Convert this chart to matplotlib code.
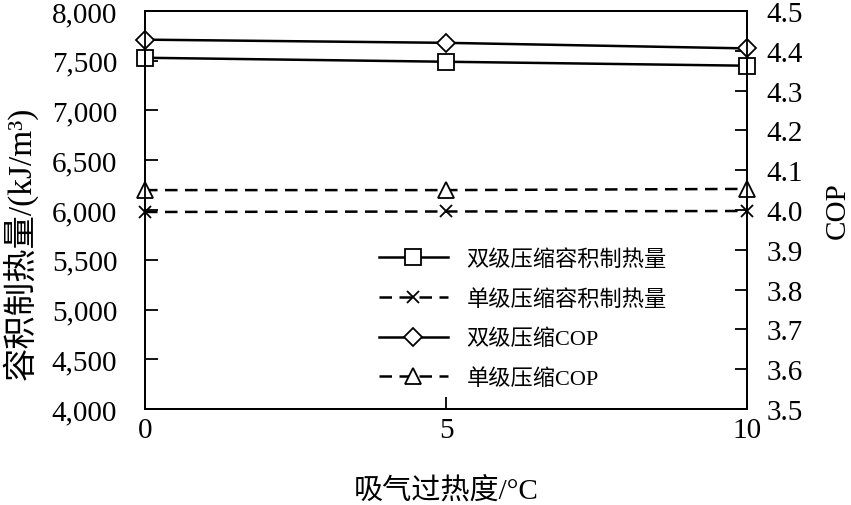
import matplotlib
matplotlib.use("Agg")
import matplotlib.pyplot as plt

plt.rcParams['font.family'] = ['Liberation Serif', 'Noto Sans CJK SC']

# data
superheat = [0, 5, 10]
two_stage_heat = [7530, 7490, 7450]
one_stage_heat = [5980, 5985, 5990]
two_stage_cop = [4.428, 4.420, 4.406]
one_stage_cop = [4.050, 4.050, 4.053]

left_ticks = [4000, 4500, 5000, 5500, 6000, 6500, 7000, 7500, 8000]
right_ticks = [3.5, 3.6, 3.7, 3.8, 3.9, 4.0, 4.1, 4.2, 4.3, 4.4, 4.5]

fig = plt.figure(figsize=(8.51, 5.06), dpi=100)
ax = fig.add_axes([0.1704, 0.1897, 0.7074, 0.7866])
ax2 = ax.twinx()

dash = (0, (5, 3))
mk = dict(markerfacecolor='white', markeredgecolor='black', markeredgewidth=1.3, color='black', lw=1.8)

l1, = ax.plot(superheat, two_stage_heat, marker='s', markersize=11, label='双级压缩容积制热量', **mk)
l2, = ax.plot(superheat, one_stage_heat, marker='x', markersize=9, linestyle=dash, label='单级压缩容积制热量', **mk)
l3, = ax2.plot(superheat, two_stage_cop, marker='D', markersize=9, label='双级压缩COP', **mk)
l4, = ax2.plot(superheat, one_stage_cop, marker='^', markersize=11, linestyle=dash, label='单级压缩COP', **mk)
for l in (l1, l2, l3, l4):
    l.set_clip_on(False)

ax.set_xlim(0, 10)
ax.set_ylim(4000, 8000)
ax2.set_ylim(3.5, 4.5)
ax.set_xticks([0, 5, 10])
ax.set_yticks(left_ticks)
ax.set_yticklabels([f"{v:,}" for v in left_ticks])
ax2.set_yticks(right_ticks)
ax2.set_yticklabels([f"{v:.1f}" for v in right_ticks])

ax.tick_params(axis='y', direction='in', length=9, width=1.3, labelsize=21, pad=20)
ax.tick_params(axis='x', direction='in', length=9, width=1.3, labelsize=21, pad=6)
ax2.tick_params(axis='y', direction='in', length=9, width=1.3, labelsize=21, pad=14)
for a in (ax, ax2):
    for s in a.spines.values():
        s.set_linewidth(1.3)

ax.set_ylabel('容积制热量/(kJ/m³)', fontsize=24)
ax.yaxis.set_label_coords(-0.178, 0.42)
ax2.set_ylabel('COP', fontsize=21, labelpad=16)
ax.set_xlabel('吸气过热度/°C', fontsize=21, labelpad=24)

ax.legend(handles=[l1, l2, l3, l4], loc='lower left', bbox_to_anchor=(0.355, 0.0),
          frameon=False, fontsize=16, handlelength=3.1, labelspacing=0.85, handletextpad=0.85)

fig.savefig('out.png', dpi=100)
